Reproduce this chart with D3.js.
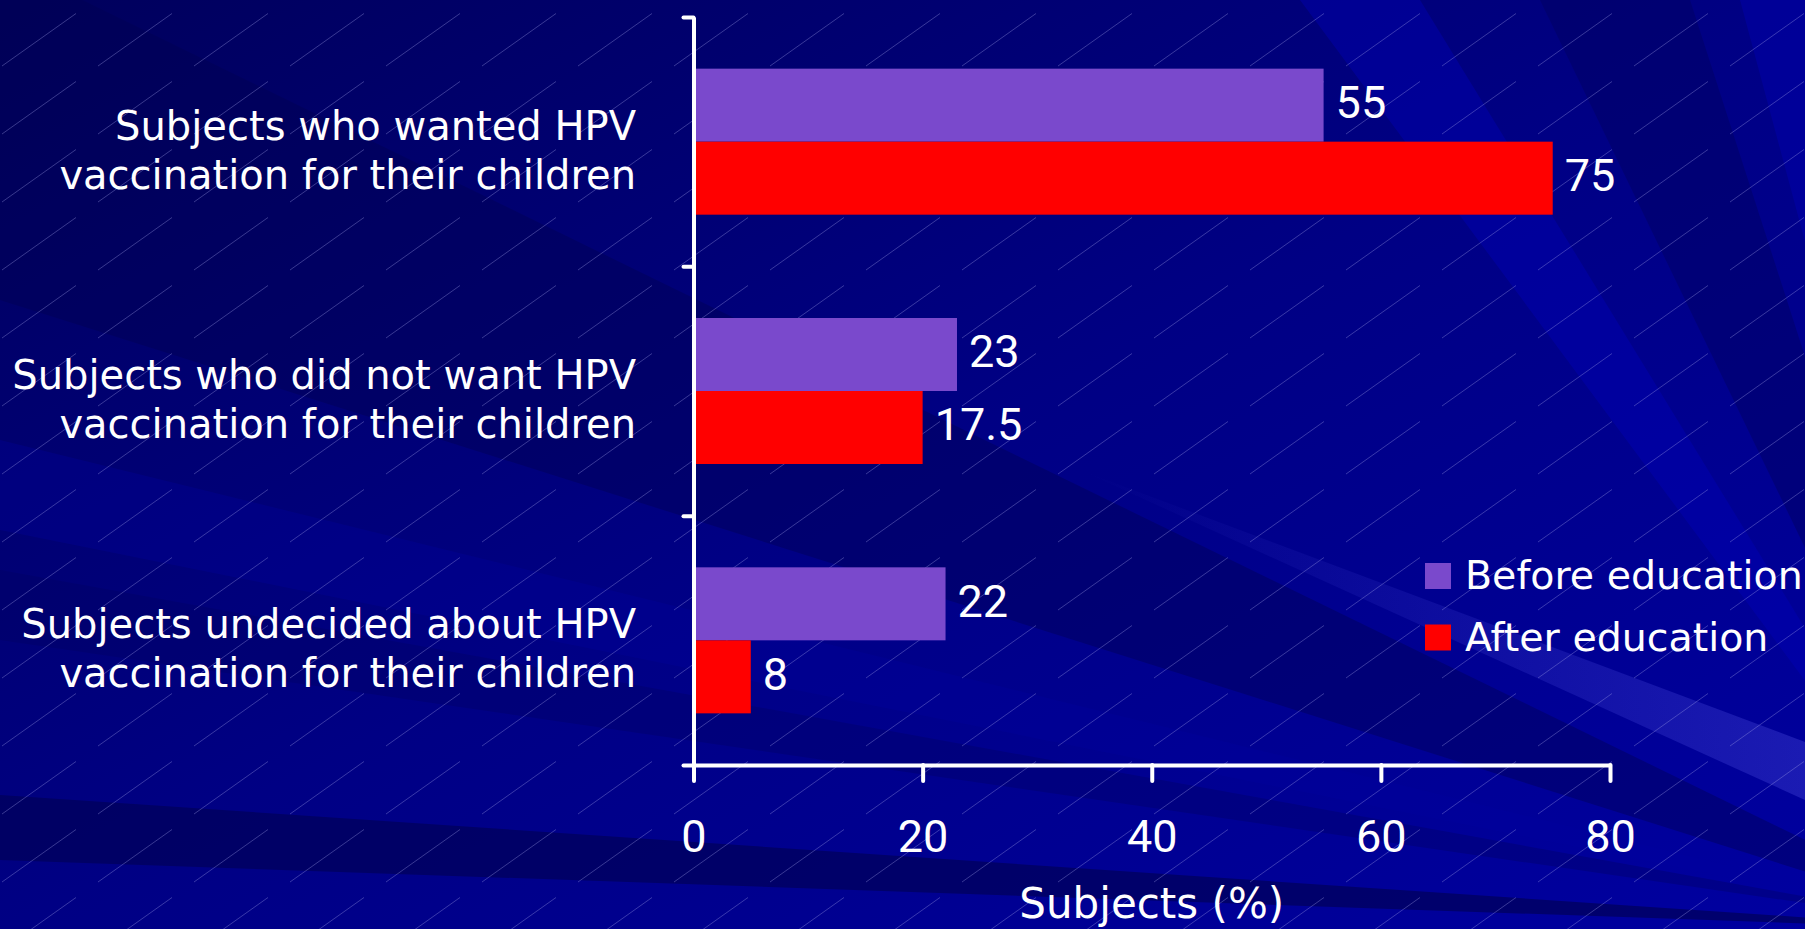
<!DOCTYPE html>
<html>
<head>
<meta charset="utf-8">
<script src="https://cdn.jsdelivr.net/npm/d3@7"></script>
<style>
  body { margin: 0; background: #000080; overflow: hidden; }
  svg { display: block; }
</style>
</head>
<body>
<svg id="chart" width="1805" height="929"></svg>
<script>
// datos del grafico
const categories = [
  ["Subjects who wanted HPV", "vaccination for their children"],
  ["Subjects who did not want HPV", "vaccination for their children"],
  ["Subjects undecided about HPV", "vaccination for their children"]
];
const seriesNames = ["Before education", "After education"];
const beforeValues = [55, 23, 22];
const afterValues = [75, 20, 5];
const beforeLabels = ["55", "23", "22"];
const afterLabels = ["75", "17.5", "8"];
const xTicks = [0, 20, 40, 60, 80];
const axisTitle = "Subjects (%)";

const colors = { before: "#7a49cc", after: "#ff0000" };

const svg = d3.select("#chart");
const W = 1805, H = 929;

// ---- fondo (rayos y rayado) ----
const defs = svg.append("defs");
const bg = defs.append("linearGradient").attr("id", "bg")
  .attr("x1", "0").attr("y1", "0").attr("x2", "1").attr("y2", "1");
bg.append("stop").attr("offset", "0").attr("stop-color", "#00005c");
bg.append("stop").attr("offset", "0.5").attr("stop-color", "#000084");
bg.append("stop").attr("offset", "1").attr("stop-color", "#0000a0");

const beam = defs.append("linearGradient").attr("id", "beam")
  .attr("x1", "0").attr("y1", "0").attr("x2", "1").attr("y2", "0");
beam.append("stop").attr("offset", "0").attr("stop-color", "#3c3cd0").attr("stop-opacity", 0);
beam.append("stop").attr("offset", "1").attr("stop-color", "#3c3cd0").attr("stop-opacity", 0.45);

const hatch = defs.append("pattern").attr("id", "hatch")
  .attr("patternUnits", "userSpaceOnUse").attr("width", 96).attr("height", 68);
hatch.append("line")
  .attr("x1", 2).attr("y1", 66).attr("x2", 76).attr("y2", 13.5)
  .attr("stroke", "#a0a0e8").attr("stroke-opacity", 0.35).attr("stroke-width", 1);

svg.append("rect").attr("width", W).attr("height", H).attr("fill", "url(#bg)");

const focus = [1990, 930];
const rays = [
  { a: [0, -40], b: [0, 300], fill: "#000050", op: 0.4 },
  { a: [0, 440], b: [0, 530], fill: "#0000a0", op: 0.3 },
  { a: [0, 570], b: [0, 640], fill: "#000060", op: 0.35 },
  { a: [0, 795], b: [0, 860], fill: "#000058", op: 0.7 },
  { a: [1300, 0], b: [1420, 0], fill: "#0000b8", op: 0.4 },
  { a: [1540, 0], b: [1690, 0], fill: "#000060", op: 0.45 },
  { a: [1740, 0], b: [1805, 0], fill: "#0000b0", op: 0.45 }
];
const far = p => [focus[0] + (p[0] - focus[0]) * 6, focus[1] + (p[1] - focus[1]) * 6];
svg.append("g").selectAll("polygon").data(rays).join("polygon")
  .attr("points", d => [focus, far(d.a), far(d.b)].map(p => p.join(",")).join(" "))
  .attr("fill", d => d.fill).attr("fill-opacity", d => d.op);

// haz de luz cerca de la leyenda
svg.append("polygon")
  .attr("points", "1080,470 1805,742 1805,800")
  .attr("fill", "url(#beam)");

svg.append("rect").attr("width", W).attr("height", H).attr("fill", "url(#hatch)");

// ---- escalas ----
const x = d3.scaleLinear().domain([0, 80]).range([693.5, 1610]);
const y = d3.scaleBand().domain(d3.range(categories.length))
  .range([17, 765]).paddingInner(0.4144).paddingOuter(0.2072);
const ySub = d3.scaleBand().domain(["before", "after"]).range([0, y.bandwidth()]);

const rows = categories.map((c, i) => ({
  i,
  bars: [
    { key: "before", v: beforeValues[i], label: beforeLabels[i] },
    { key: "after", v: afterValues[i], label: afterLabels[i] }
  ]
}));

// barras
const groups = svg.append("g").selectAll("g").data(rows).join("g")
  .attr("transform", d => `translate(0,${y(d.i)})`);

groups.selectAll("rect").data(d => d.bars).join("rect")
  .attr("x", x(0))
  .attr("y", d => ySub(d.key))
  .attr("width", d => x(d.v) - x(0))
  .attr("height", ySub.bandwidth())
  .attr("fill", d => colors[d.key]);

groups.selectAll("text").data(d => d.bars).join("text")
  .attr("x", d => x(d.v) + 12)
  .attr("y", d => ySub(d.key) + ySub.bandwidth() / 2 + 13)
  .attr("fill", "#fff")
  .attr("font-family", "Roboto, sans-serif")
  .attr("font-size", 45)
  .text(d => d.label);

// ---- ejes ----
const yPos = d3.scaleLinear().domain([0, 3]).range([765, 17]);
const gy = svg.append("g").attr("transform", `translate(${x(0)},0)`)
  .call(d3.axisLeft(yPos).ticks(3).tickSize(10).tickSizeOuter(0).tickFormat(""));

const gx = svg.append("g").attr("transform", "translate(0,765)")
  .call(d3.axisBottom(x).tickValues(xTicks).tickSize(16).tickSizeOuter(0));

[gy, gx].forEach(g => {
  g.select(".domain").attr("stroke", "#fff").attr("stroke-width", 4);
  g.selectAll(".tick line").attr("stroke", "#fff").attr("stroke-width", 4)
    .attr("stroke-linecap", "round");
});

gx.selectAll(".tick text")
  .attr("y", 87).attr("dy", 0)
  .attr("fill", "#fff")
  .attr("font-family", "Roboto, sans-serif")
  .attr("font-size", 45);

svg.append("text")
  .attr("x", (x(0) + x(80)) / 2).attr("y", 918)
  .attr("text-anchor", "middle")
  .attr("fill", "#fff")
  .attr("font-family", "DejaVu Sans, Verdana, sans-serif")
  .attr("font-size", 42)
  .text(axisTitle);

// etiquetas de categorias
const catLabels = svg.append("g").selectAll("text").data(rows).join("text")
  .attr("text-anchor", "end")
  .attr("fill", "#fff")
  .attr("font-family", "DejaVu Sans, Verdana, sans-serif")
  .attr("font-size", 40);

catLabels.selectAll("tspan").data(d => categories[d.i].map((t, k) => ({ t, k, i: d.i }))).join("tspan")
  .attr("x", 636)
  .attr("y", d => y(d.i) + y.bandwidth() / 2 - 2 + d.k * 49)
  .text(d => d.t);

// leyenda
const legend = svg.append("g").attr("transform", "translate(1425,563)");
const items = legend.selectAll("g").data(seriesNames).join("g")
  .attr("transform", (d, i) => `translate(0,${i * 61.5})`);
items.append("rect")
  .attr("width", 26).attr("height", 26)
  .attr("fill", (d, i) => i === 0 ? colors.before : colors.after);
items.append("text")
  .attr("x", 40).attr("y", 26)
  .attr("fill", "#fff")
  .attr("font-family", "DejaVu Sans, Verdana, sans-serif")
  .attr("font-size", 39.5)
  .text(d => d);
</script>
</body>
</html>
